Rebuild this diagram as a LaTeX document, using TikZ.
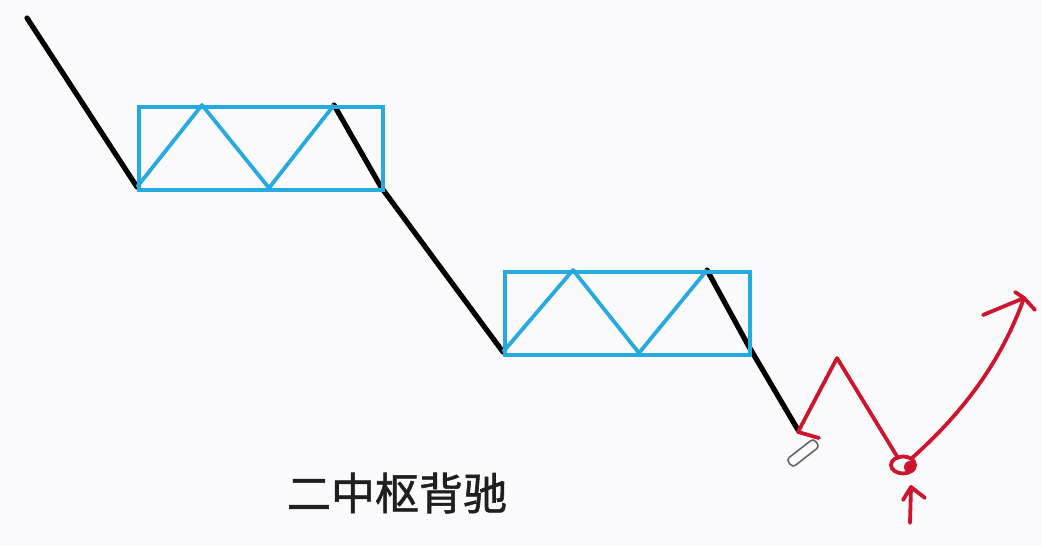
\documentclass[tikz,border=0pt]{standalone}
\usepackage{fontspec}
\newfontfamily\cjk[FakeBold=1.3]{Noto Sans CJK SC}
\definecolor{zsblue}{RGB}{38,170,224}
\definecolor{zsred}{RGB}{205,22,45}
\definecolor{bgc}{RGB}{251,251,253}
\tikzset{
  trend/.style={line width=5.2pt, black, line cap=round, line join=round},
  zone/.style={line width=3.8pt, zsblue, line join=round},
  hand/.style={line width=3.8pt, zsred, line cap=round, line join=round},
}
\begin{document}
\begin{tikzpicture}[x=1pt,y=-1pt]
\fill[bgc] (0,0) rectangle (1042,546);
\useasboundingbox (0,0) rectangle (1042,546);
% coordinates
\coordinate (s) at (27,18);
\coordinate (a1) at (137,187);
\coordinate (a2) at (202,105);
\coordinate (a3) at (269,188);
\coordinate (a4) at (334,105);
\coordinate (a5) at (381,187);
\coordinate (b1) at (503,352);
\coordinate (b2) at (573,270);
\coordinate (b3) at (639,353);
\coordinate (b4) at (707,270);
\coordinate (b5) at (748,345);
\coordinate (e) at (798,430);
% trend
\draw[trend] (s) -- (a1);
\draw[trend] (a4) -- (a5) -- (b1);
\draw[trend] (b4) -- (b5) -- (e);
% zones
\node[draw=zsblue, line width=3.8pt, minimum width=244pt, minimum height=83pt, inner sep=0pt, anchor=north west] (z1) at (137,105) {};
\node[draw=zsblue, line width=3.8pt, minimum width=245pt, minimum height=83pt, inner sep=0pt, anchor=north west] (z2) at (503,270) {};
\draw[zone] (a1) -- (a2) -- (a3) -- (a4);
\draw[zone] (b1) -- (b2) -- (b3) -- (b4);
% red hand-drawn part
\coordinate (r0) at (798,432);
\coordinate (rt) at (819,438);
\coordinate (rp) at (837,358);
\coordinate (rb) at (898,458);
\coordinate (rc) at (903,465);
\coordinate (rtip) at (1024,298);
\coordinate (h1) at (983,315);
\coordinate (h2) at (1015,292);
\coordinate (h3) at (1035,310);
\coordinate (u0) at (910,523);
\coordinate (u1) at (911,487);
\coordinate (u2) at (903,500);
\coordinate (u3) at (925,498);
\draw[hand] (rt) -- (r0) -- (rp) -- (rb);
\draw[hand] (rc) circle[x radius=12pt, y radius=8.5pt];
\fill[zsred] (910,467) circle[radius=6pt];
\draw[hand] (912,458) .. controls (960,415) and (1000,365) .. (rtip);
\draw[hand] (h1) -- (rtip) -- (h3);
\draw[hand] (h2) -- (rtip);
\draw[hand] (u0) -- (u1);
\draw[hand] (u2) -- (u1) -- (u3);
% small clip mark
\draw[gray!80!black, line width=1.6pt, rounded corners=3.5pt, rotate around={38:(803,453)}] (786,448) rectangle (820,458);
% label
\node[font=\cjk\fontsize{44}{48}\selectfont, text=black!88] (lbl) at (397,493) {二中枢背驰};
\end{tikzpicture}
\end{document}
